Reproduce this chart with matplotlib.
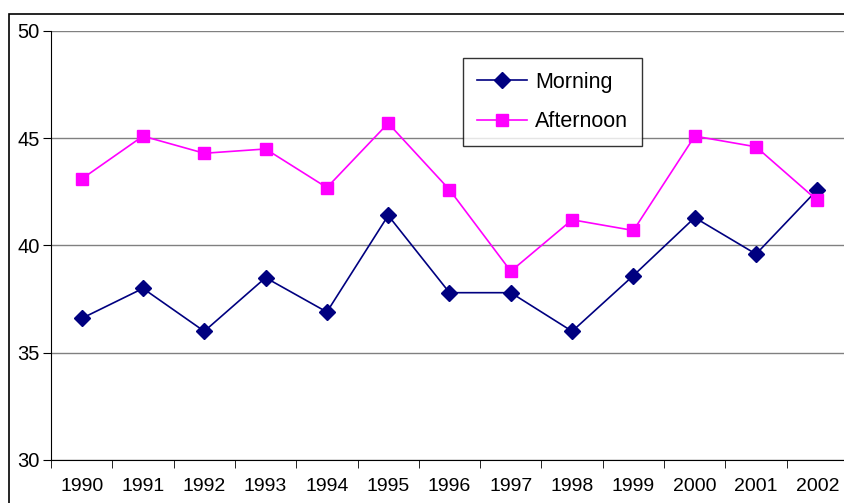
import numpy as np
import matplotlib.pyplot as plt
from matplotlib.patches import Rectangle

plt.rcParams['font.family'] = ['Liberation Sans', 'DejaVu Sans']

years = ['1990', '1991', '1992', '1993', '1994', '1995', '1996',
         '1997', '1998', '1999', '2000', '2001', '2002']
morning = [36.6, 38.0, 36.0, 38.5, 36.9, 41.4, 37.8, 37.8, 36.0, 38.6, 41.3, 39.6, 42.6]
afternoon = [43.1, 45.1, 44.3, 44.5, 42.7, 45.7, 42.6, 38.8, 41.2, 40.7, 45.1, 44.6, 42.1]

fig = plt.figure(figsize=(8.45, 5.03), dpi=100)

# outer chart frame, cut off at right and bottom like the source
fig.patches.append(Rectangle((9 / 845, -0.1), 1.1, 1 - 14 / 503 + 0.1,
                             transform=fig.transFigure, fill=False,
                             edgecolor='black', linewidth=1.2))

ax = fig.add_axes([51 / 845, 43 / 503, 797 / 845, 429 / 503])
x = np.arange(len(years))

ax.plot(x, morning, color='#000080', marker='D', markersize=8, linewidth=1.2,
        label='Morning')
ax.plot(x, afternoon, color='#FF00FF', marker='s', markersize=9, linewidth=1.2,
        label='Afternoon')

ax.set_xlim(-0.5, len(years) - 0.5)
ax.set_ylim(30, 50)
ax.set_yticks([30, 35, 40, 45, 50])
ax.yaxis.grid(True, color='#808080', linewidth=1)
ax.set_axisbelow(True)

ax.set_xticks(x)
ax.set_xticklabels(years)
ax.set_xticks(np.arange(-0.5, len(years), 1), minor=True)
ax.tick_params(axis='x', which='major', length=0, pad=13, labelsize=14)
ax.tick_params(axis='x', which='minor', length=6, direction='out')
ax.tick_params(axis='y', length=6, direction='out', labelsize=14.5, pad=2)

for s in ['top', 'right']:
    ax.spines[s].set_visible(False)
ax.spines['left'].set_color('black')
ax.spines['bottom'].set_color('black')

leg = ax.legend(loc='upper left', bbox_to_anchor=(412 / 797, (460 - 58) / 429),
                fontsize=15.5, frameon=True, fancybox=False, borderpad=0.65,
                handlelength=2.3, handletextpad=0.4, labelspacing=0.85,
                borderaxespad=0)
leg.get_frame().set_edgecolor('black')
leg.get_frame().set_linewidth(1)

fig.savefig('out.png', dpi=100)
